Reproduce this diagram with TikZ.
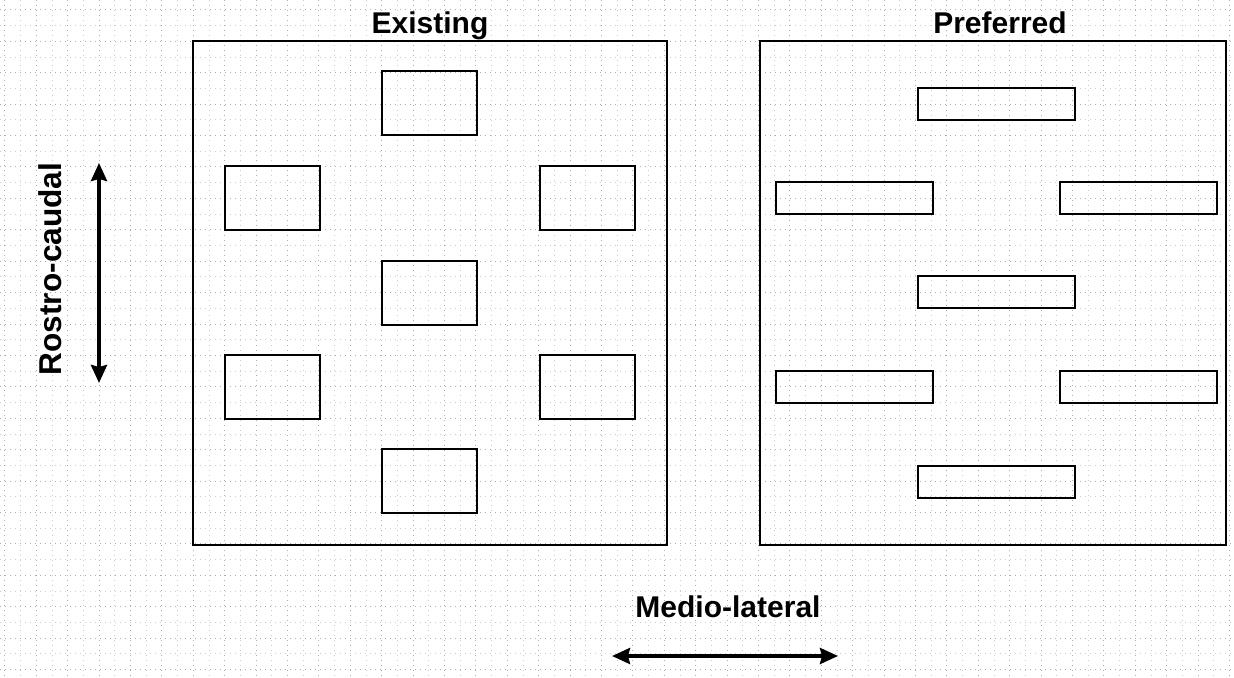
\documentclass[tikz,border=0pt]{standalone}
\usepackage{fontspec}
\setmainfont{Liberation Sans}
\usetikzlibrary{arrows.meta}
\begin{document}
\begin{tikzpicture}[x=0.5pt,y=-0.5pt,
  panel/.style={draw=black,line width=1pt,rectangle,inner sep=0pt},
  padbox/.style={draw=black,line width=1pt,rectangle,inner sep=0pt,
    minimum width=47.5pt,minimum height=32pt},
  stripbox/.style={draw=black,line width=1pt,rectangle,inner sep=0pt,
    minimum width=78.5pt,minimum height=16pt},
  title/.style={font=\bfseries\fontsize{15}{18}\selectfont,inner sep=0pt},
  axis/.style={line width=1.8pt,{Stealth[length=9pt,width=8pt,inset=1pt]}-{Stealth[length=9pt,width=8pt,inset=1pt]}},
  minorgrid/.style={gray!40,line width=0.4pt,dash pattern=on 0.5pt off 2pt},
  majorgrid/.style={gray!65,line width=0.5pt,dash pattern=on 0.5pt off 2pt}]
\useasboundingbox (0,0) rectangle (1234,678);
\fill[white] (0,0) rectangle (1234,678);
% dotted background grid
\foreach \i in {0,...,78} {
  \pgfmathsetmacro{\gx}{4.8+\i*15.7}
  \pgfmathsetmacro{\gy}{10+\i*15.7}
  \ifodd\i
    \draw[minorgrid] (\gx,0) -- (\gx,678);
    \draw[minorgrid] (0,\gy) -- (1234,\gy);
  \else
    \draw[majorgrid] (\gx,0) -- (\gx,678);
    \draw[majorgrid] (0,\gy) -- (1234,\gy);
  \fi
}
% panels
\node[panel,minimum width=237pt,minimum height=252pt] (existing) at (430,293) {};
\node[panel,minimum width=233pt,minimum height=252pt] (preferred) at (993,293) {};
\node[title,anchor=base] (existinglbl) at (430,34) {Existing};
\node[title,anchor=base] (preferredlbl) at (1000,34) {Preferred};
% existing layout
\node[padbox] (e1) at (429.5,103) {};
\node[padbox] (e2) at (272.5,198) {};
\node[padbox] (e3) at (587.5,198) {};
\node[padbox] (e4) at (429.5,293) {};
\node[padbox] (e5) at (272.5,387) {};
\node[padbox] (e6) at (587.5,387) {};
\node[padbox] (e7) at (429.5,481) {};
% preferred layout
\node[stripbox] (p1) at (996.5,104) {};
\node[stripbox] (p2) at (854.5,198) {};
\node[stripbox] (p3) at (1138,198) {};
\node[stripbox] (p4) at (996.5,292) {};
\node[stripbox] (p5) at (854.5,387) {};
\node[stripbox] (p6) at (1138,387) {};
\node[stripbox] (p7) at (996.5,482) {};
% direction arrows
\coordinate (rcTop) at (99,163);
\coordinate (rcBot) at (99,383);
\draw[axis] (rcTop) -- (rcBot);
\node[title,rotate=90,anchor=base,font=\bfseries\fontsize{15.8}{18}\selectfont] (rclbl) at (61,269) {Rostro-caudal};
\coordinate (mlLeft) at (612,656);
\coordinate (mlRight) at (838,656);
\draw[axis] (mlLeft) -- (mlRight);
\node[title,anchor=base] (mllbl) at (728,617) {Medio-lateral};
\end{tikzpicture}
\end{document}
